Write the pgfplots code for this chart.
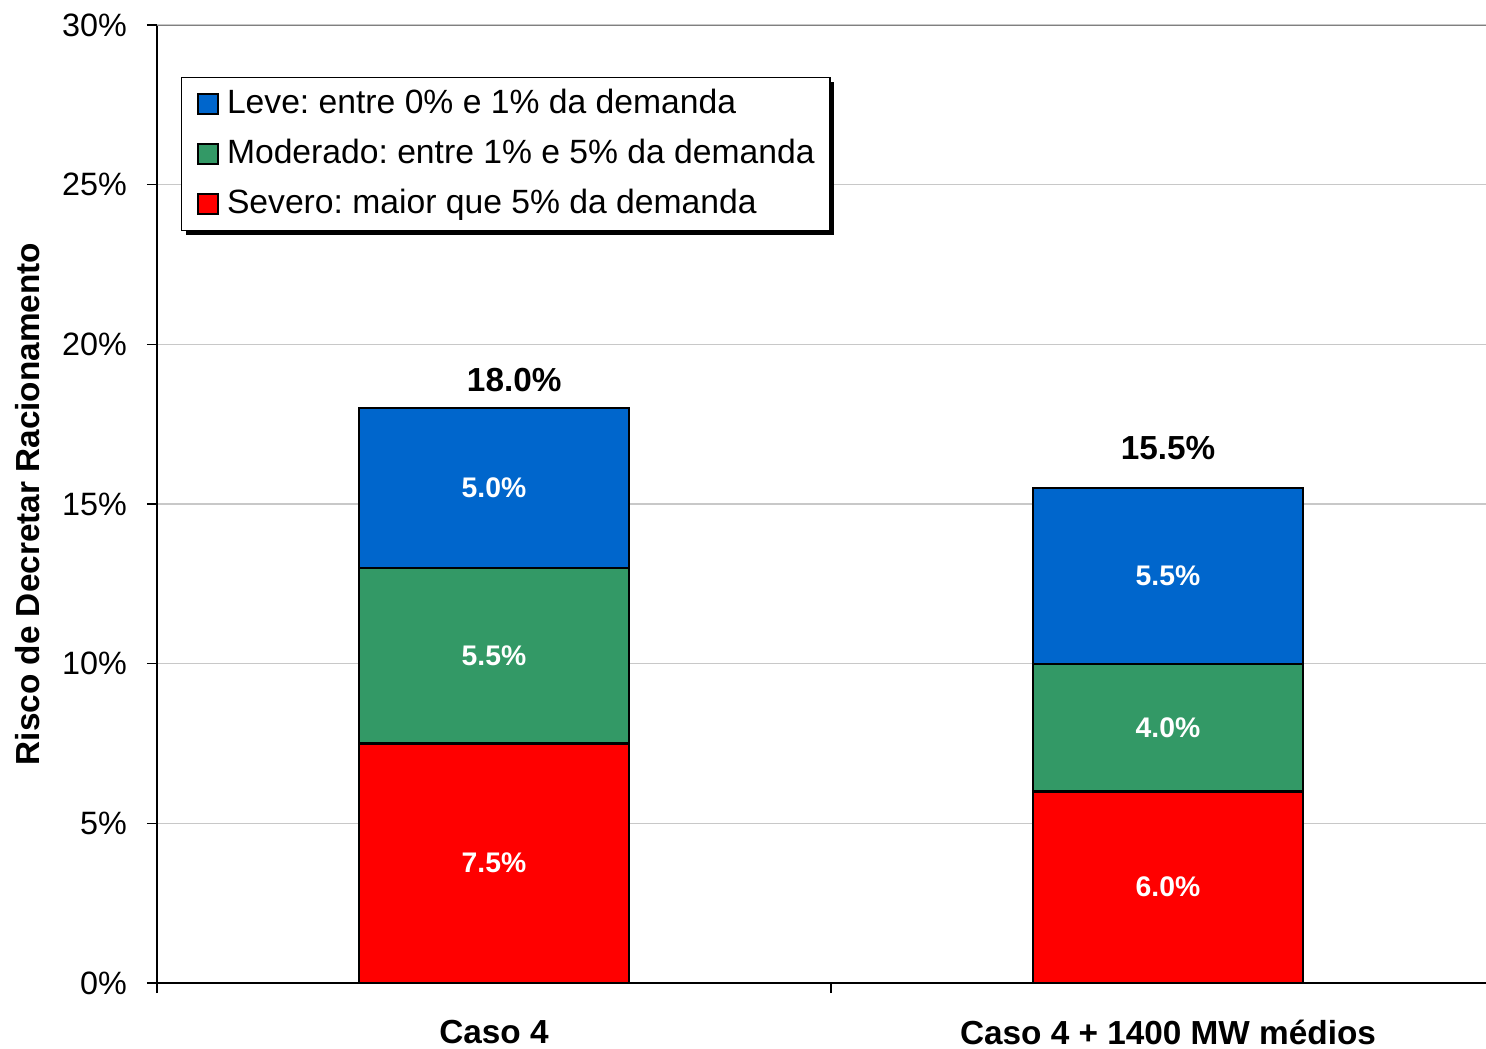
\documentclass[border=0pt]{standalone}
\usepackage{fontspec}
\setmainfont{Liberation Sans}
\usepackage{pgfplots}
\pgfplotsset{compat=1.18}
\usetikzlibrary{shadows}
\definecolor{leve}{HTML}{0066CC}
\definecolor{moder}{HTML}{339966}
\definecolor{sever}{HTML}{FF0000}
\definecolor{gridc}{HTML}{C8C8C8}
\makeatletter
\tikzset{nopre/.code={\let\tikz@preactions\pgfutil@empty}}
\makeatother
\tikzset{inlbl/.style={font=\fontsize{8.5}{10}\selectfont\bfseries, text=white},
  totlbl/.style={font=\fontsize{10}{12}\selectfont\bfseries}}
\frenchspacing

\begin{document}
\begin{tikzpicture}
\useasboundingbox (-47.1pt,-19.5pt) rectangle (398.7pt,294.9pt);
\begin{axis}[at={(0,0)}, anchor=south west, scale only axis,
  width=404.4pt, height=287.4pt,
  ybar stacked, bar width=81pt,
  xmin=-0.5, xmax=1.5, ymin=0, ymax=30,
  axis x line*=bottom, axis y line*=left,
  axis line style={black, line width=0.6pt},
  tick align=outside, major tick length=3pt,
  tick style={black, line width=0.4pt},
  xtick={-0.5,0.5,1.5}, xticklabels={},
  extra x ticks={0,1},
  extra x tick labels={Caso 4, Caso 4 + 1400 MW médios},
  extra x tick style={major tick length=0pt, grid=none,
    xticklabel style={font=\fontsize{10}{12}\selectfont\bfseries, yshift=-7.5pt}},
  ytick={0,5,...,30},
  yticklabel={\pgfmathprintnumber{\tick}\%},
  yticklabel style={font=\fontsize{9.7}{12}\selectfont, xshift=-2.5pt},
  /pgf/number format/assume math mode=true,
  ymajorgrids, grid style={gridc, line width=0.4pt},
  ylabel={Risco de Decretar Racionamento},
  every axis y label/.style={at={(axis description cs:-0.0957,0.5)}, rotate=90, anchor=center,
    font=\fontsize{10}{12}\selectfont\bfseries},
  reverse legend,
  legend cell align=left,
  legend style={at={(axis description cs:0.0178,0.9457)}, anchor=north west,
    font=\fontsize{10.1}{12}\selectfont, draw=black, line width=0.4pt,
    inner xsep=2.1pt, inner ysep=1.5pt, row sep=2.2pt,
    nodes={inner xsep=2.5pt},
    drop shadow={shadow xshift=1.2pt, shadow yshift=-1.2pt, fill=black, opacity=1}},
  legend image code/.code={\path (0pt,0pt);
    \draw[#1, draw=black, line width=0.5pt, nopre] (2.4pt,-3pt) rectangle (8.4pt,3pt);},
]
\addplot[fill=sever, draw=black, line width=0.7pt] coordinates {(0,7.5) (1,6.0)};
\addlegendentry{Severo: maior que 5\% da demanda}
\addplot[fill=moder, draw=black, line width=0.7pt] coordinates {(0,5.5) (1,4.0)};
\addlegendentry{Moderado: entre 1\% e 5\% da demanda}
\addplot[fill=leve, draw=black, line width=0.7pt] coordinates {(0,5.0) (1,5.5)};
\addlegendentry{Leve: entre 0\% e 1\% da demanda}
\draw[gray, line width=0.6pt] (rel axis cs:0,1) -- (rel axis cs:1,1);
\coordinate (a1) at (axis cs:0,3.75);
\coordinate (a2) at (axis cs:0,10.25);
\coordinate (a3) at (axis cs:0,15.5);
\coordinate (b1) at (axis cs:1,3.0);
\coordinate (b2) at (axis cs:1,8.0);
\coordinate (b3) at (axis cs:1,12.75);
\coordinate (ta) at (axis cs:0.03,18.88);
\coordinate (tb) at (axis cs:1,16.75);
\end{axis}
\node[inlbl] at (a1) {7.5\%};
\node[inlbl] at (a2) {5.5\%};
\node[inlbl] at (a3) {5.0\%};
\node[inlbl] at (b1) {6.0\%};
\node[inlbl] at (b2) {4.0\%};
\node[inlbl] at (b3) {5.5\%};
\node[totlbl] at (ta) {18.0\%};
\node[totlbl] at (tb) {15.5\%};
\end{tikzpicture}
\end{document}
